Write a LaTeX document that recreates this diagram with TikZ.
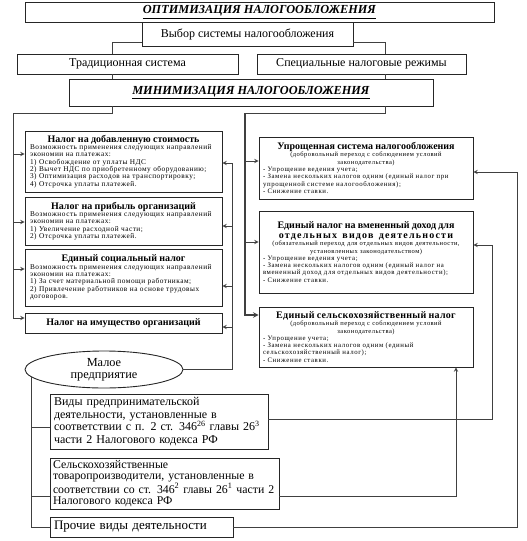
\documentclass[tikz,border=0pt]{standalone}
\usepackage{fontspec}
\setmainfont{Liberation Serif}
\usetikzlibrary{shapes.geometric}

\newcommand{\boxhead}{\normalfont\fontsize{10}{10}\selectfont\bfseries}
\newcommand{\boxtext}{\normalfont\fontsize{7.3}{7.3}\selectfont\addfontfeatures{LetterSpace=7}}
\newcommand{\boxnote}{\normalfont\fontsize{6.5}{7.3}\selectfont\addfontfeatures{LetterSpace=7}}
\newcommand{\boxlist}{\normalfont\fontsize{6.8}{7.3}\selectfont\addfontfeatures{LetterSpace=9}}

\tikzset{
  box/.style={draw=black!85, line width=0.9pt, fill=white, inner sep=0pt, align=center},
  infobox/.style={box, align=left, inner xsep=5pt},
  conn/.style={draw=black!75, line width=0.9pt},
}

\begin{document}
\begin{tikzpicture}[x=1pt, y=-1pt, >=stealth]
  \useasboundingbox (0,0) rectangle (527,541);

  % top of the scheme
  \node[box, minimum width=469, minimum height=20, font=\fontsize{12.3}{13}\selectfont] (opt) at (259.5,12)
    {\underline{\textbf{\textit{ОПТИМИЗАЦИЯ НАЛОГООБЛОЖЕНИЯ}}}};
  \node[box, minimum width=211, minimum height=24, font=\fontsize{12}{13}\selectfont] (choice) at (247.5,34)
    {Выбор системы налогообложения};
  \node[box, minimum width=221, minimum height=20, font=\fontsize{12}{13}\selectfont] (trad) at (127.5,64)
    {Традиционная система};
  \node[box, minimum width=209, minimum height=20, font=\fontsize{12}{13}\selectfont] (spec) at (361.5,64)
    {Специальные налоговые режимы};
  \node[box, minimum width=364, minimum height=27, font=\fontsize{12.3}{13}\selectfont] (mini) at (251,92.5)
    {\underline{\textbf{\textit{МИНИМИЗАЦИЯ НАЛОГООБЛОЖЕНИЯ}}}};

  % traditional system
  \node[infobox, text width=187, minimum height=61, font=\boxtext] (vat) at (123.5,161.5)
    {{\centering\boxhead Налог на добавленную стоимость\par}
     Возможность применения следующих направлений\\ экономии на платежах:\\
     1) Освобождение от уплаты НДС\\
     2) Вычет НДС по приобретенному оборудованию;\\
     3) Оптимизация расходов на транспортировку;\\
     4) Отсрочка уплаты платежей.};
  \node[infobox, text width=187, minimum height=48, font=\boxtext] (profit) at (123.5,221)
    {{\centering\boxhead Налог на прибыль организаций\par}
     Возможность применения следующих направлений\\ экономии на платежах:\\
     1) Увеличение расходной части;\\
     2) Отсрочка уплаты платежей.};
  \node[infobox, text width=187, minimum height=57, font=\boxtext] (social) at (123.5,277.5)
    {{\centering\boxhead Единый социальный налог\par}
     Возможность применения следующих направлений\\ экономии на платежах:\\
     1) За счет материальной помощи работникам;\\
     2) Привлечение работников на основе трудовых\\ договоров.};
  \node[box, minimum width=197, minimum height=20, font=\boxhead] (property) at (123.5,323)
    {Налог на имущество организаций};

  % special regimes
  \node[infobox, text width=206, inner xsep=4pt, minimum height=62, font=\boxlist] (usn) at (366,168)
    {{\centering\boxhead Упрощенная система налогообложения\par
      \boxnote (добровольный переход с соблюдением условий\\ законодательства)\par}
     - Упрощение ведения учета;\\
     - Замена нескольких налогов одним (единый налог при\\ упрощенной системе налогообложения);\\
     - Снижение ставки.};
  \node[infobox, text width=206, inner xsep=4pt, minimum height=82, font=\boxlist] (envd) at (366,252)
    {{\centering\boxhead Единый налог на вмененный доход для\\
      {\addfontfeatures{LetterSpace=12}отдельных\hspace{3pt} видов\hspace{3pt} деятельности}\par
      \boxnote (обязательный переход для отдельных видов деятельности,\\ установленных законодательством)\par}
     - Упрощение ведения учета;\\
     - Замена нескольких налогов одним (единый налог на\\ вмененный доход для отдельных видов деятельности);\\
     - Снижение ставки.};
  \node[infobox, text width=206, inner xsep=4pt, minimum height=60, font=\boxlist] (eshn) at (366,337)
    {{\centering\boxhead\addfontfeatures{LetterSpace=3}Единый сельскохозяйственный налог\par
      \boxnote (добровольный переход с соблюдением условий\\ законодательства)\par}
     - Упрощение учета;\\
     - Замена нескольких налогов одним (единый\\ сельскохозяйственный налог);\\
     - Снижение ставки.};

  % enterprise and kinds of activity
  \node[box, ellipse, minimum width=158, minimum height=37, font=\fontsize{12.3}{12}\selectfont] (small) at (104,369.5)
    {Малое\\ предприятие};
  \node[infobox, text width=210, inner xsep=4pt, minimum height=55, font=\fontsize{12}{12.4}\selectfont] (kinds) at (159,421.5)
    {Виды предпринимательской\\ деятельности, установленные в\\
     соответствии с п. 2 ст. 346\textsuperscript{26} главы 26\textsuperscript{3}\\ части 2 Налогового кодекса РФ};
  \node[infobox, text width=223, inner xsep=3pt, minimum height=51, font=\fontsize{11.8}{11}\selectfont] (agri) at (164.5,483.5)
    {Сельскохозяйственные\\ товаропроизводители, установленные в\\
     соответствии со ст. 346\textsuperscript{2} главы 26\textsuperscript{1} части 2\\ Налогового кодекса РФ};
  \node[infobox, text width=175, inner xsep=4pt, minimum height=20, font=\fontsize{13}{13}\selectfont] (other) at (141.5,527)
    {Прочие виды деятельности};

  % connectors
  \coordinate (tl) at (112,0);
  \coordinate (tr) at (385,0);
  \coordinate (ls) at (13,113);
  \coordinate (rs) at (245,113);
  \coordinate (ms) at (232,0);
  \coordinate (ve) at (492,0);
  \coordinate (se) at (456,0);
  \coordinate (oe) at (517,0);

  \draw[conn] ([yshift=4pt]choice.south west) -| (tl |- trad.north);
  \draw[conn] ([yshift=4pt]choice.south east) -| (tr |- spec.north);
  \draw[conn] (tl |- trad.south) -- (tl |- mini.north);
  \draw[conn] (tr |- spec.south) -- (tr |- mini.north);

  \draw[conn] (tl |- mini.south) |- (ls);
  \draw[conn, ->] (ls) |- ([yshift=5pt]property.west);
  \draw[conn, ->] (ls |- 0,154) -- (vat.west |- 0,154);
  \draw[conn, ->] (ls |- 0,222) -- (profit.west |- 0,222);
  \draw[conn, ->] (ls |- 0,269) -- (social.west |- 0,269);

  \draw[conn] (tr |- mini.south) |- (rs);
  \draw[conn, line width=1.4pt, ->] (rs) |- ([yshift=22pt]eshn.west);
  \draw[conn, ->] (rs |- 0,161) -- (usn.west |- 0,161);
  \draw[conn, ->] (rs |- 0,242) -- (envd.west |- 0,242);

  \draw[conn] (small.east) -| (ms |- 0,163);
  \draw[conn, ->] (ms |- 0,163) -- (vat.east |- 0,163);
  \draw[conn, ->] (ms |- 0,226) -- (profit.east |- 0,226);
  \draw[conn, ->] (ms |- 0,286) -- (social.east |- 0,286);
  \draw[conn, ->] (ms |- 0,327) -- (property.east |- 0,327);

  \draw[conn] (small.186) |- (other.west);
  \draw[conn] (small.186 |- 0,427) -- (kinds.west |- 0,427);
  \draw[conn] (small.186 |- 0,496) -- (agri.west |- 0,496);

  \draw[conn, ->] (kinds.east |- 0,419) -| (ve |- 0,245) -- (envd.east |- 0,245);
  \draw[conn, ->] (agri.east |- 0,496) -| (se |- eshn.south);
  \draw[conn, ->] (other.east) -| (oe |- 0,172) -- (usn.east |- 0,172);
\end{tikzpicture}
\end{document}
